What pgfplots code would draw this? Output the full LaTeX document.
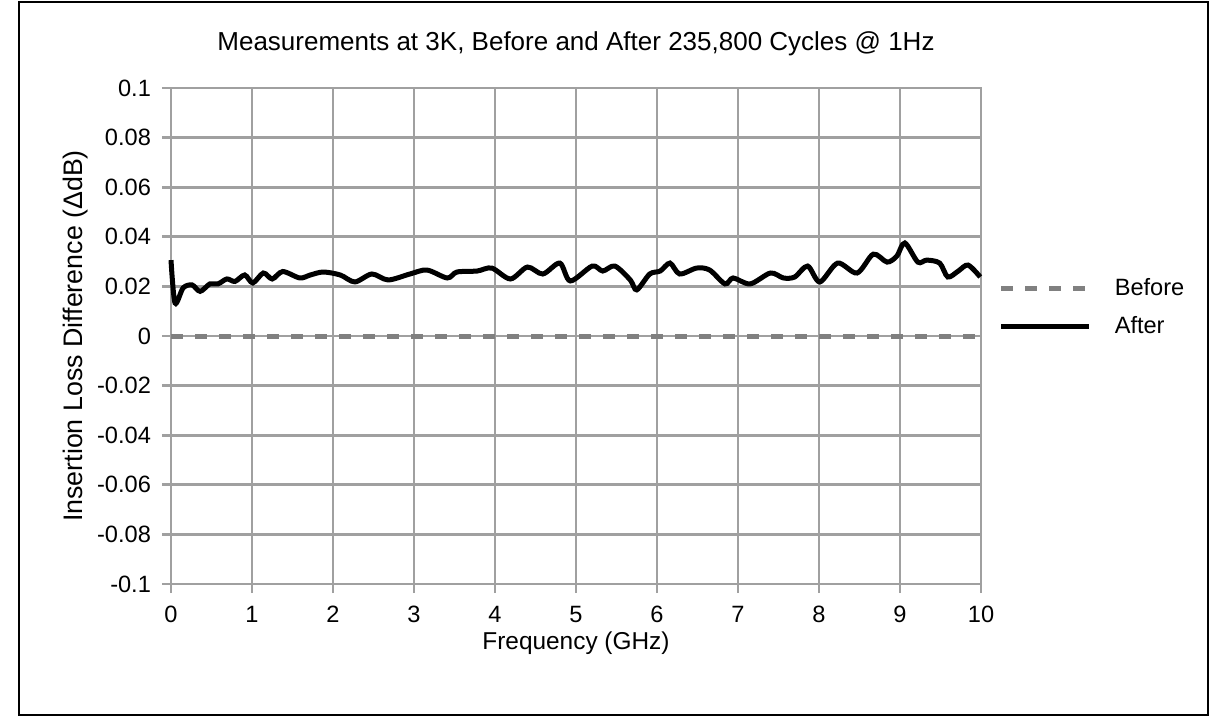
\documentclass[border=0pt]{standalone}
\usepackage{pgfplots}
\pgfplotsset{compat=1.18}
\usepackage{fontspec}
\setmainfont{Liberation Sans}
\definecolor{gridgray}{HTML}{A0A0A0}
\definecolor{beforegray}{HTML}{808080}

\begin{document}
\begin{tikzpicture}[x=1pt,y=1pt]
% page frame (1px = 0.5pt)
\path[use as bounding box] (-85.5,-66.5) rectangle (524,292);
\draw[line width=1pt] (-76,-65.5) rectangle (518.5,291);
\begin{axis}[
    at={(0,0)}, anchor=south west,
    scale only axis,
    width=405pt, height=248pt,
    xmin=0, xmax=10, ymin=-0.1, ymax=0.1,
    xtick={0,1,...,10},
    ytick={-0.1,-0.08,-0.06,-0.04,-0.02,0,0.02,0.04,0.06,0.08,0.1},
    yticklabels={-0.1,-0.08,-0.06,-0.04,-0.02,0,0.02,0.04,0.06,0.08,0.1},
    /pgf/number format/assume math mode=true,
    tick label style={font=\fontsize{11.8}{13}\selectfont},
    label style={font=\fontsize{12.2}{14}\selectfont},
    grid=major,
    grid style={gridgray, line width=1.4pt},
    axis line style={gridgray, line width=1.4pt},
    tick style={gridgray, line width=1.4pt},
    tick align=outside,
    major tick length=4.5pt,
    xtick pos=bottom, ytick pos=left,
    xticklabel style={yshift=-3pt},
    yticklabel style={xshift=-2pt},
    xlabel={Frequency (GHz)},
    ylabel={Insertion Loss Difference (ΔdB)},
    xlabel style={at={(axis description cs:0.5,0)}, anchor=center, yshift=-29.5pt},
    ylabel style={font=\fontsize{13.4}{15}\selectfont, at={(axis description cs:0,0.5)}, anchor=center, yshift=47.5pt},
    title={Measurements at 3K, Before and After 235,800 Cycles @ 1Hz},
    title style={font=\fontsize{13}{15}\selectfont, at={(axis description cs:0.5,1)}, anchor=center, yshift=16pt},
    legend style={at={(1.014,0.557)}, anchor=west, draw=none, fill=none,
        font=\fontsize{11.8}{13}\selectfont, row sep=5pt,
        /tikz/every odd column/.append style={column sep=9.5pt}},
    legend cell align=left,
    legend image code/.code={\draw[#1] (0pt,0pt) -- (44pt,0pt);},
    clip=false,
]
\addplot[beforegray, line width=2.5pt, dash pattern=on 6pt off 6pt] coordinates {
  (0,0) (2,0) (4,0) (6,0) (8,0) (10,0)
};
\addlegendentry{Before}
\addplot[black, line width=2.5pt, smooth, tension=0.5] coordinates {
  (0.00,0.0306) (0.05,0.0133) (0.15,0.0194) (0.26,0.0206) (0.36,0.0180)
  (0.48,0.0210) (0.58,0.0210) (0.69,0.0230) (0.79,0.0220) (0.91,0.0246)
  (1.01,0.0214) (1.14,0.0254) (1.25,0.0230) (1.38,0.0260) (1.59,0.0234)
  (1.72,0.0246) (1.88,0.0258) (2.09,0.0246) (2.27,0.0218) (2.48,0.0250)
  (2.68,0.0226) (2.95,0.0250) (3.16,0.0266) (3.41,0.0234) (3.53,0.0258)
  (3.78,0.0262) (3.96,0.0274) (4.19,0.0230) (4.40,0.0278) (4.59,0.0250)
  (4.80,0.0294) (4.93,0.0222) (5.20,0.0282) (5.33,0.0262) (5.48,0.0282)
  (5.67,0.0226) (5.75,0.0186) (5.91,0.0250) (6.04,0.0262) (6.16,0.0294)
  (6.28,0.0250) (6.49,0.0274) (6.65,0.0266) (6.84,0.0210) (6.94,0.0234)
  (7.15,0.0210) (7.40,0.0254) (7.56,0.0234) (7.70,0.0238) (7.86,0.0282)
  (8.01,0.0218) (8.23,0.0294) (8.47,0.0254) (8.67,0.0330) (8.84,0.0298)
  (8.96,0.0322) (9.06,0.0375) (9.22,0.0298) (9.33,0.0306) (9.49,0.0294)
  (9.59,0.0238) (9.72,0.0262) (9.84,0.0286) (9.99,0.0238)
};
\addlegendentry{After}
\end{axis}
\end{tikzpicture}
\end{document}
